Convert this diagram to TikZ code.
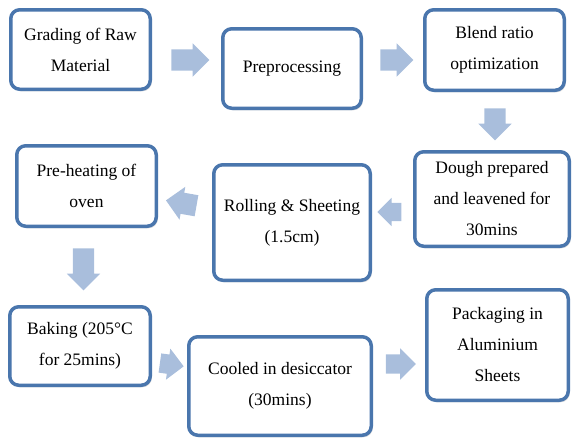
\documentclass[tikz,border=0pt]{standalone}
\usepackage{fontspec}
\setmainfont{Liberation Serif}
\usepackage{tikz}
\usetikzlibrary{positioning}
\usetikzlibrary{shapes.arrows}
\usetikzlibrary{shadows}
\definecolor{BOXBLUE}{HTML}{4A76AD}
\definecolor{ARROWBLUE}{HTML}{A9BEDC}
\tikzset{
	every node/.style = {font=\fontsize{17.5}{31}\selectfont},
	procbox/.style = {draw=BOXBLUE, line width=3.5pt, rounded corners=9pt, fill=white, align=center, inner sep=2pt,
		drop shadow={shadow xshift=1.5pt, shadow yshift=-2pt, opacity=.25}},
	blockarrow/.style = {single arrow, fill=ARROWBLUE, draw=none, inner xsep=0pt, inner ysep=10.5pt,
		single arrow head extend=6pt, minimum height=#1}
}

\begin{document}
\begin{tikzpicture}[x=1pt, y=-1pt]
		\useasboundingbox (0,0) rectangle (573,439);
		
		% first row
		\node[procbox, minimum width=139.5pt, minimum height=79.5pt] (grading) at (80.5,49.5) {Grading of Raw\\Material};
		\node[procbox, minimum width=138.5pt, minimum height=79.5pt] (prep) at (292,68.5) {Preprocessing};
		\node[procbox, minimum width=139.5pt, minimum height=80.5pt] (blend) at (494.5,50) {Blend ratio\\optimization};
		
		% second row
		\node[procbox, minimum width=154.5pt, minimum height=94.5pt] (dough) at (492,199) {Dough prepared\\and leavened for\\30mins};
		\node[procbox, minimum width=156.5pt, minimum height=115.5pt] (rolling) at (292,222.5) {Rolling \& Sheeting\\(1.5cm)};
		\node[procbox, minimum width=139.5pt, minimum height=80.5pt] (preheat) at (86.5,186) {Pre-heating of\\oven};
		
		% third row
		\node[procbox, minimum width=140.5pt, minimum height=78.5pt] (baking) at (80,346) {Baking (205°C\\for 25mins)};
		\node[procbox, minimum width=182.5pt, minimum height=98.5pt] (cooled) at (280,386) {Cooled in desiccator\\(30mins)};
		\node[procbox, minimum width=141.5pt, minimum height=110.5pt] (packing) at (497.5,345) {Packaging in\\Aluminium\\Sheets};
		
		% block arrows between the steps
		\node[blockarrow=38pt] (a1) at (185,60) {};
		\node[blockarrow=33pt] (a2) at (391.5,60) {};
		\node[blockarrow=32pt, rotate=-90] (a3) at (495,119) {};
		\node[blockarrow=24pt, rotate=180, inner ysep=9pt, single arrow head extend=5pt] (a4) at (394,212) {};
		\node[blockarrow=31pt, rotate=170] (a5) at (186.5,204) {};
		\node[blockarrow=42pt, rotate=-90] (a6) at (83.5,264) {};
		\node[blockarrow=24pt, rotate=-8, inner ysep=9.5pt] (a7) at (167,364) {};
		\node[blockarrow=30pt, inner ysep=9.5pt] (a8) at (396,364) {};
	\end{tikzpicture}
\end{document}
